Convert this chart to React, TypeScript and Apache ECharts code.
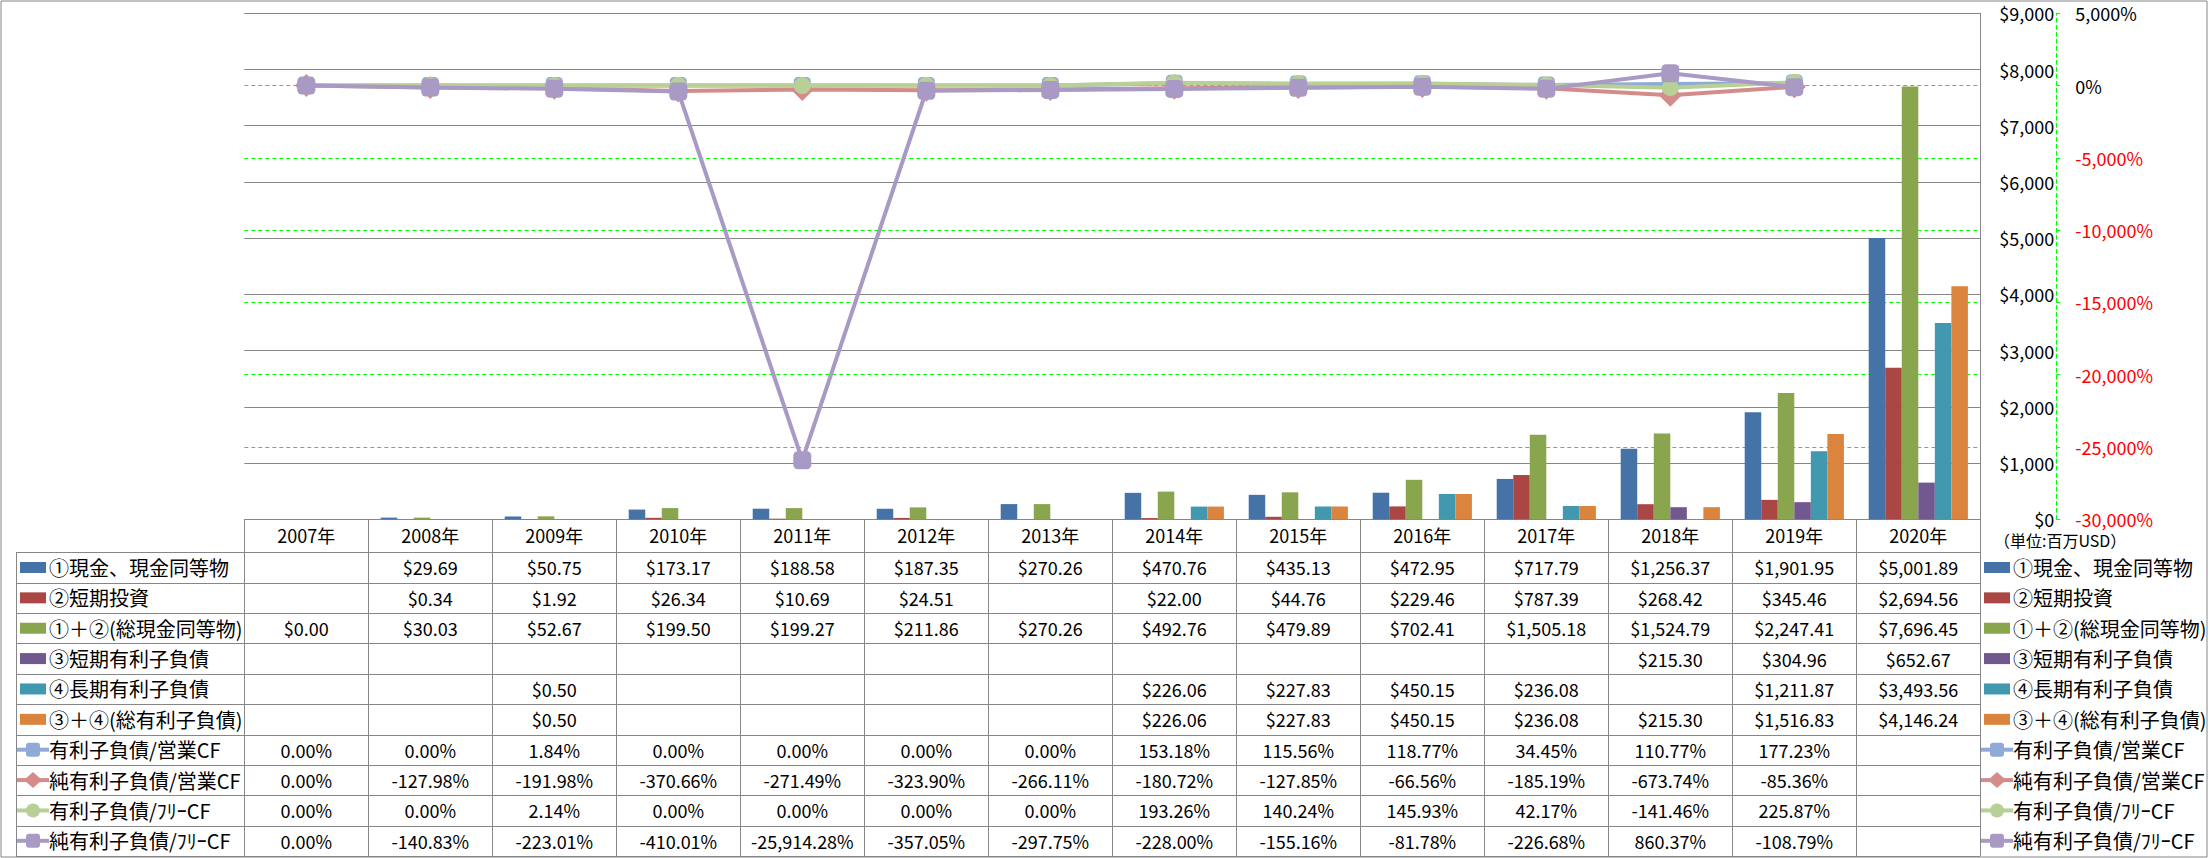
import React, { useEffect, useRef } from 'react';
import * as echarts from 'echarts';

const years = ['2007年', '2008年', '2009年', '2010年', '2011年', '2012年', '2013年', '2014年', '2015年', '2016年', '2017年', '2018年', '2019年', '2020年'];

const cashEq = [null, 29.69, 50.75, 173.17, 188.58, 187.35, 270.26, 470.76, 435.13, 472.95, 717.79, 1256.37, 1901.95, 5001.89];
const shortInv = [null, 0.34, 1.92, 26.34, 10.69, 24.51, null, 22.0, 44.76, 229.46, 787.39, 268.42, 345.46, 2694.56];
const totalCash = [0.0, 30.03, 52.67, 199.5, 199.27, 211.86, 270.26, 492.76, 479.89, 702.41, 1505.18, 1524.79, 2247.41, 7696.45];
const shortDebt = [null, null, null, null, null, null, null, null, null, null, null, 215.3, 304.96, 652.67];
const longDebt = [null, null, 0.5, null, null, null, null, 226.06, 227.83, 450.15, 236.08, null, 1211.87, 3493.56];
const totalDebt = [null, null, 0.5, null, null, null, null, 226.06, 227.83, 450.15, 236.08, 215.3, 1516.83, 4146.24];

const debtOpCF = [0.0, 0.0, 1.84, 0.0, 0.0, 0.0, 0.0, 153.18, 115.56, 118.77, 34.45, 110.77, 177.23, null];
const netDebtOpCF = [0.0, -127.98, -191.98, -370.66, -271.49, -323.9, -266.11, -180.72, -127.85, -66.56, -185.19, -673.74, -85.36, null];
const debtFreeCF = [0.0, 0.0, 2.14, 0.0, 0.0, 0.0, 0.0, 193.26, 140.24, 145.93, 42.17, -141.46, 225.87, null];
const netDebtFreeCF = [0.0, -140.83, -223.01, -410.01, -25914.28, -357.05, -297.75, -228.0, -155.16, -81.78, -226.68, 860.37, -108.79, null];

const barNames = ['①現金、現金同等物', '②短期投資', '①＋②(総現金同等物)', '③短期有利子負債', '④長期有利子負債', '③＋④(総有利子負債)'];
const lineNames = ['有利子負債/営業CF', '純有利子負債/営業CF', '有利子負債/ﾌﾘｰCF', '純有利子負債/ﾌﾘｰCF'];
const barData = [cashEq, shortInv, totalCash, shortDebt, longDebt, totalDebt];
const lineData = [debtOpCF, netDebtOpCF, debtFreeCF, netDebtFreeCF];

const barColors = ['#4572A7', '#AA4643', '#89A54E', '#71588F', '#4198AF', '#DB843D'];
const lineColors = ['#8FAAD6', '#D48C8A', '#B8CF96', '#A99AC5'];
const lineSymbols = ['roundRect', 'diamond', 'circle', 'roundRect'];
const lineSymbolSizes = [17, 23, 17, 18];

const unitLabel = '（単位:百万USD）';

const FONT = "'Noto Sans CJK JP', 'Noto Sans', sans-serif";
const W = 2211;
const H = 858;
const GRID_LEFT = 244.3;
const GRID_RIGHT_X = 1980.3;
const GRID_TOP = 13.3;
const TABLE_TOP = 519.3;
const HEADER_H = 33;
const ROW_H = 30.37;
const TABLE_LEFT = 16;
const GRAY = '#868686';

const fmtMoney = (v: number | null) =>
  v === null ? '' : '$' + v.toLocaleString('en-US', { minimumFractionDigits: 2, maximumFractionDigits: 2 });
const fmtPct = (v: number | null) =>
  v === null ? '' : v.toLocaleString('en-US', { minimumFractionDigits: 2, maximumFractionDigits: 2 }) + '%';

function keyGraphic(kind: 'bar' | 'line', idx: number, x0: number, cy: number): any[] {
  if (kind === 'bar') {
    return [{ type: 'rect', shape: { x: x0, y: cy - 5.5, width: 26, height: 11 }, style: { fill: barColors[idx] }, z: 10 }];
  }
  const c = lineColors[idx];
  const mx = x0 + 13;
  const els: any[] = [
    { type: 'line', shape: { x1: x0 - 3, y1: cy, x2: x0 + 29, y2: cy }, style: { stroke: c, lineWidth: 4 }, z: 10 },
  ];
  const sym = lineSymbols[idx];
  if (sym === 'roundRect') {
    els.push({ type: 'rect', shape: { x: mx - 7, y: cy - 7, width: 14, height: 14, r: 3 }, style: { fill: c }, z: 11 });
  } else if (sym === 'diamond') {
    els.push({ type: 'polygon', shape: { points: [[mx, cy - 8], [mx + 9, cy], [mx, cy + 8], [mx - 9, cy]] }, style: { fill: c }, z: 11 });
  } else {
    els.push({ type: 'circle', shape: { cx: mx, cy, r: 7 }, style: { fill: c }, z: 11 });
  }
  return els;
}

export default function App() {
  const ref = useRef<HTMLDivElement>(null);
  useEffect(() => {
    const chart = echarts.init(ref.current!, null, { renderer: 'svg', width: W, height: H });
    const option: any = {
      animation: false,
      backgroundColor: '#ffffff',
      textStyle: { fontFamily: FONT },
      grid: { left: GRID_LEFT, right: W - GRID_RIGHT_X, top: GRID_TOP, bottom: H - TABLE_TOP, containLabel: false },
      xAxis: {
        type: 'category',
        data: years,
        position: 'bottom',
        boundaryGap: true,
        axisLine: { show: true, lineStyle: { color: GRAY, width: 1 } },
        axisTick: { show: true, length: H - TABLE_TOP - 2, lineStyle: { color: GRAY, width: 1 } },
        axisLabel: { show: true, fontSize: 18, color: '#000', margin: 7, fontFamily: FONT },
        splitLine: { show: false },
      },
      yAxis: [
        {
          type: 'value',
          position: 'right',
          min: 0,
          max: 9000,
          interval: 1000,
          axisLine: { show: true, lineStyle: { color: GRAY, width: 1 } },
          axisTick: { show: false },
          axisLabel: {
            margin: 74,
            align: 'right',
            fontSize: 18,
            color: '#000',
            fontFamily: FONT,
            formatter: (v: number) => '$' + v.toLocaleString('en-US'),
          },
          splitLine: { show: true, lineStyle: { color: GRAY, width: 1 } },
        },
        {
          type: 'value',
          position: 'right',
          offset: 76,
          min: -30000,
          max: 5000,
          interval: 5000,
          axisLine: { show: true, lineStyle: { color: '#00FF00', width: 1, type: [4, 3] } },
          axisTick: { show: true, inside: false, length: 4, lineStyle: { color: '#00FF00', width: 1 } },
          axisLabel: {
            margin: 19,
            fontSize: 18,
            fontFamily: FONT,
            formatter: (v: number) => {
              const s = v.toLocaleString('en-US') + '%';
              return v < 0 ? '{r|' + s + '}' : '{b|' + s + '}';
            },
            rich: {
              r: { color: '#FF0000', fontSize: 18, fontFamily: FONT },
              b: { color: '#000000', fontSize: 18, fontFamily: FONT },
            },
          },
          splitLine: { show: true, showMinLine: false, showMaxLine: false, lineStyle: { color: '#00FF00', width: 1, type: [4, 3] } },
        },
      ],
      series: [
        ...barData.map((d, i) => ({
          name: barNames[i],
          type: 'bar',
          yAxisIndex: 0,
          data: d,
          barGap: '0%',
          barCategoryGap: '20%',
          itemStyle: { color: barColors[i] },
          z: 2,
        })),
        ...lineData.map((d, i) => ({
          name: lineNames[i],
          type: 'line',
          yAxisIndex: 1,
          data: d,
          connectNulls: false,
          symbol: lineSymbols[i],
          symbolSize: lineSymbolSizes[i],
          showAllSymbol: true,
          lineStyle: { color: lineColors[i], width: 4 },
          itemStyle: { color: lineColors[i] },
          z: 5 + i,
        })),
      ],
    };
    chart.setOption(option);

    const g: any[] = [];
    // outer border
    g.push({ type: 'rect', shape: { x: 1, y: 1, width: 2206, height: 856 }, style: { fill: 'none', stroke: GRAY, lineWidth: 1 }, z: 0, silent: true });

    const rowsTop = TABLE_TOP + HEADER_H;
    // horizontal table lines
    for (let k = 0; k <= 10; k++) {
      const y = Math.round(rowsTop + k * ROW_H) + 0.5;
      g.push({ type: 'line', shape: { x1: TABLE_LEFT, y1: y, x2: GRID_RIGHT_X, y2: y }, style: { stroke: GRAY, lineWidth: 1 }, z: 9 });
    }
    // left border of table label column
    g.push({ type: 'line', shape: { x1: TABLE_LEFT + 0.5, y1: rowsTop, x2: TABLE_LEFT + 0.5, y2: rowsTop + 10 * ROW_H }, style: { stroke: GRAY, lineWidth: 1 }, z: 9 });

    const allRows: { name: string; kind: 'bar' | 'line'; idx: number; data: (number | null)[] }[] = [
      ...barNames.map((n, i) => ({ name: n, kind: 'bar' as const, idx: i, data: barData[i] })),
      ...lineNames.map((n, i) => ({ name: n, kind: 'line' as const, idx: i, data: lineData[i] })),
    ];

    allRows.forEach((row, r) => {
      const cy = rowsTop + (r + 0.5) * ROW_H;
      // left label
      g.push(...keyGraphic(row.kind, row.idx, 20, cy));
      g.push({ type: 'text', x: 49, y: cy, style: { text: row.name, fontSize: 20, fontFamily: FONT, fill: '#000', textAlign: 'left', textVerticalAlign: 'middle' }, z: 10 });
      // right legend
      g.push(...keyGraphic(row.kind, row.idx, 1984, cy));
      g.push({ type: 'text', x: 2013, y: cy, style: { text: row.name, fontSize: 20, fontFamily: FONT, fill: '#000', textAlign: 'left', textVerticalAlign: 'middle' }, z: 10 });
      // cells
      row.data.forEach((v, c) => {
        const px = chart.convertToPixel({ xAxisIndex: 0 }, c) as number;
        const txt = row.kind === 'bar' ? fmtMoney(v) : fmtPct(v);
        if (!txt) return;
        g.push({ type: 'text', x: px, y: cy, style: { text: txt, fontSize: 18, fontFamily: FONT, fill: '#000', textAlign: 'center', textVerticalAlign: 'middle' }, z: 10 });
      });
    });

    g.push({ type: 'text', x: 1994, y: 540, style: { text: unitLabel, fontSize: 16, fontFamily: FONT, fill: '#000', textAlign: 'left', textVerticalAlign: 'middle' }, z: 10 });

    chart.setOption({ graphic: g });
    return () => chart.dispose();
  }, []);
  return <div ref={ref} style={{ position: 'fixed', left: 0, top: 0, width: W, height: H, background: '#fff' }} />;
}
